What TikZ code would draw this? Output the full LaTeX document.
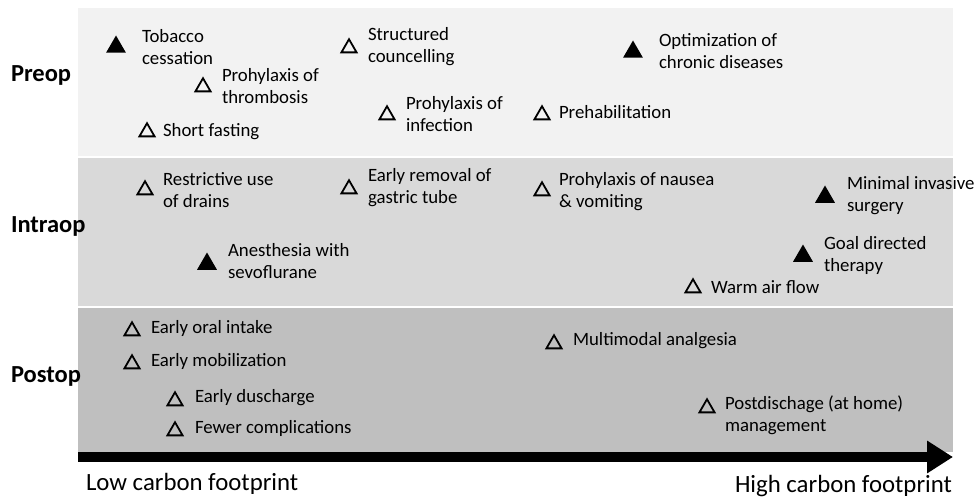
\documentclass[tikz,border=0pt]{standalone}
\usepackage{fontspec}
\setmainfont{Carlito}
\usepackage{tikz}
\usetikzlibrary{arrows.meta,positioning,shapes.geometric}
\definecolor{PreopGray}{HTML}{F2F2F2}
\definecolor{IntraGray}{HTML}{D9D9D9}
\definecolor{PostGray}{HTML}{BFBFBF}

\begin{document}
\begin{tikzpicture}[
  x=1pt,y=-1pt,
  every node/.style={inner sep=0pt,outer sep=0pt},
  band/.style={draw=white,line width=1.2pt},
  phase/.style={anchor=west,font=\fontsize{24.5}{28}\selectfont\bfseries},
  item/.style={anchor=west,align=left,font=\fontsize{18.8}{22}\selectfont},
  lowtri/.style={regular polygon,regular polygon sides=3,draw=black,
    line width=1.8pt,minimum size=17.5pt},
  hightri/.style={regular polygon,regular polygon sides=3,fill=black,
    minimum size=23pt},
  axis/.style={line width=10pt,-{Triangle[length=26pt,width=31pt]}},
  footprint/.style={font=\fontsize{24.8}{28}\selectfont}
]
\useasboundingbox (0,0) rectangle (975,500);
% phase bands
\fill[PreopGray] (78,8) rectangle (953,157);
\fill[IntraGray] (78,157) rectangle (953,307);
\fill[PostGray] (78,307) rectangle (953,452);
\draw[band] (78,157) -- (953,157);
\draw[band] (78,307) -- (953,307);

\node[phase] (preop) at (11,75) {Preop};
\node[phase] (intraop) at (11,226) {Intraop};
\node[phase] (postop) at (11,376) {Postop};

% preop
\node[hightri] (tobaccotri) at (116,47) {};
\node[item] (tobacco) at (142,47) {Tobacco\\cessation};
\node[lowtri] (thrombtri) at (203,87) {};
\node[item] (thromb) at (222,86) {Prohylaxis of\\thrombosis};
\node[lowtri] (fastingtri) at (147,132) {};
\node[item] (fasting) at (163,132) {Short fasting};
\node[lowtri] (councellingtri) at (349,48) {};
\node[item] (councelling) at (368,47) {Structured\\councelling};
\node[lowtri] (infectiontri) at (387,115) {};
\node[item] (infection) at (406,114) {Prohylaxis of\\infection};
\node[lowtri] (prehabtri) at (542,115) {};
\node[item] (prehab) at (559,112) {Prehabilitation};
\node[hightri] (chronictri) at (633,52) {};
\node[item] (chronic) at (659,51) {Optimization of\\chronic diseases};

% intraop
\node[lowtri] (drainstri) at (145,190) {};
\node[item] (drains) at (163,190) {Restrictive use\\of drains};
\node[lowtri] (tubetri) at (349,189) {};
\node[item] (tube) at (368,188) {Early removal of\\gastric tube};
\node[lowtri] (nauseatri) at (542,191) {};
\node[item] (nausea) at (559,192) {Prohylaxis of nausea\\\& vomiting};
\node[hightri] (invasivetri) at (825,197) {};
\node[item] (invasive) at (847,196) {Minimal invasive\\surgery};
\node[hightri] (sevotri) at (207,264) {};
\node[item] (sevo) at (228,261) {Anesthesia with\\sevoflurane};
\node[hightri] (goaltri) at (803,256) {};
\node[item] (goal) at (824,255) {Goal directed\\therapy};
\node[lowtri] (warmtri) at (693,288) {};
\node[item] (warm) at (711,287) {Warm air flow};

% postop
\node[lowtri] (oraltri) at (132,331) {};
\node[item] (oral) at (151,328) {Early oral intake};
\node[lowtri] (mobiltri) at (132,364) {};
\node[item] (mobil) at (151,361) {Early mobilization};
\node[lowtri] (dischargetri) at (175,401) {};
\node[item] (discharge) at (195,398) {Early duscharge};
\node[lowtri] (fewertri) at (175,431) {};
\node[item] (fewer) at (195,428) {Fewer complications};
\node[lowtri] (analgesiatri) at (554,344) {};
\node[item] (analgesia) at (573,341) {Multimodal analgesia};
\node[lowtri] (hometri) at (707,408) {};
\node[item] (home) at (725,415) {Postdischage (at home)\\management};

% carbon footprint axis
\coordinate (lowend) at (78,457);
\coordinate (highend) at (953,457);
\draw[axis] (lowend) -- (highend);
\node[footprint,anchor=west] (low) at (86,484) {Low carbon footprint};
\node[footprint,anchor=east] (high) at (952,486) {High carbon footprint};
\end{tikzpicture}
\end{document}
